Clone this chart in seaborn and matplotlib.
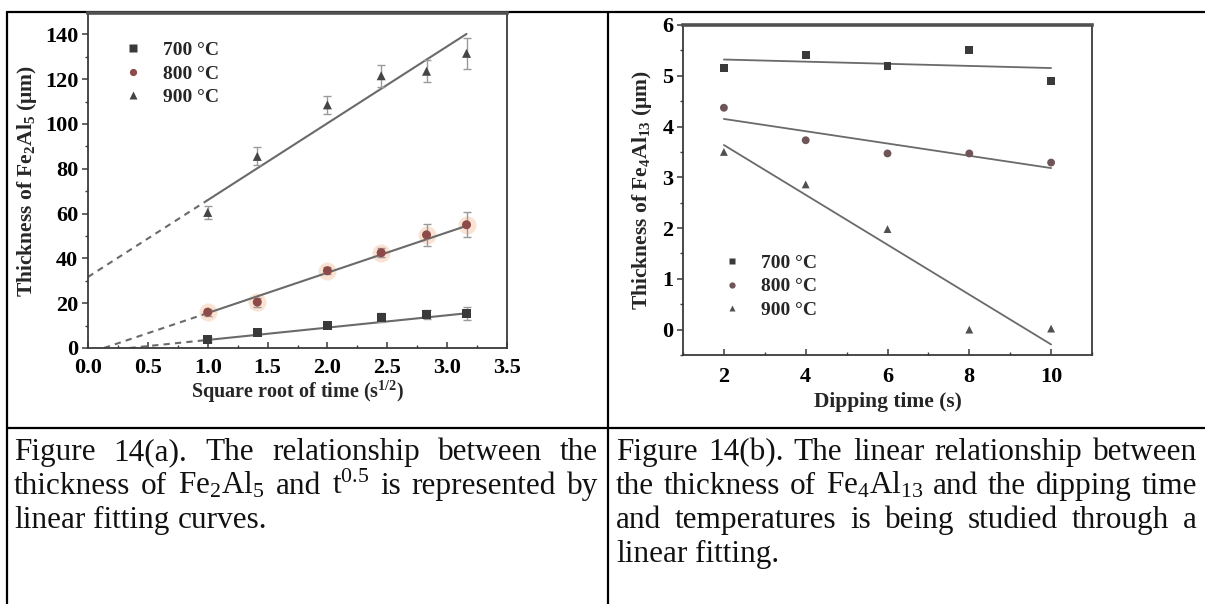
import numpy as np
import pandas as pd
import matplotlib
matplotlib.use("Agg")
import matplotlib.pyplot as plt
import matplotlib.transforms as mtransforms
from matplotlib.lines import Line2D
from matplotlib.ticker import MultipleLocator
import seaborn as sns

# ---------------- data ----------------
temps = ["700 °C", "800 °C", "900 °C"]

# (a) Fe2Al5 thickness vs square root of time
sqrt_time = [1.0, 1.414, 2.0, 2.449, 2.828, 3.162]
fe2al5_700 = [3.7, 6.7, 10.0, 13.5, 14.8, 15.5]
fe2al5_800 = [16.0, 20.5, 34.5, 42.5, 50.5, 55.0]
fe2al5_900 = [60.5, 85.5, 108.5, 121.5, 123.5, 131.5]
err_700 = [1.0, 1.0, 1.0, 2.0, 2.0, 3.0]
err_800 = [1.5, 2.0, 1.5, 2.0, 5.0, 5.5]
err_900 = [3.0, 4.0, 4.0, 5.0, 5.0, 7.0]
fit_slope_a = [5.5, 18.0, 34.3]
fit_intercept_a = [-1.9, -2.4, 31.7]

# (b) Fe4Al13 thickness vs dipping time
dip_time = [2, 4, 6, 8, 10]
fe4al13_700 = [5.16, 5.41, 5.20, 5.51, 4.90]
fe4al13_800 = [4.37, 3.73, 3.47, 3.47, 3.29]
fe4al13_900 = [3.50, 2.86, 1.98, 0.00, 0.02]

caption_a = [
    "Figure 14(a). The relationship between the",
    "thickness of Fe$_2$Al$_5$ and t$^{0.5}$ is represented by",
    "linear fitting curves.",
]
caption_b = [
    "Figure 14(b). The linear relationship between",
    "the thickness of Fe$_4$Al$_{13}$ and the dipping time",
    "and temperatures is being studied through a",
    "linear fitting.",
]

# ---------------- style ----------------
sns.set_theme(style="ticks")
plt.rcParams["font.family"] = ["Liberation Serif", "DejaVu Serif"]
plt.rcParams["mathtext.fontset"] = "custom"
plt.rcParams["mathtext.rm"] = "Liberation Serif"
plt.rcParams["mathtext.it"] = "Liberation Serif:italic"
plt.rcParams["mathtext.bf"] = "Liberation Serif:bold"

W, H = 1205, 604
fig = plt.figure(figsize=(W / 100, H / 100), dpi=100)
fig.patch.set_facecolor("white")

def fx(x):
    return x / W

def fy(y):
    return 1 - y / H

markers = {"700 °C": "s", "800 °C": "o", "900 °C": "^"}
pal_a = {"700 °C": "#3a3a3a", "800 °C": "#8e4a48", "900 °C": "#454545"}
pal_b = {"700 °C": "#3a3a3a", "800 °C": "#6e5558", "900 °C": "#505050"}
line_c = "#6a6a6a"

def style_axes(ax):
    for s in ["left", "bottom", "right"]:
        ax.spines[s].set_color("#3a3a3a")
        ax.spines[s].set_linewidth(1.3)
    ax.spines["top"].set_color("#505050")
    ax.spines["top"].set_linewidth(2.6)
    ax.tick_params(axis="y", which="both", direction="out", left=True, right=False,
                   colors="#3a3a3a", labelcolor="black", labelsize=16, pad=3)
    ax.tick_params(axis="x", which="both", direction="in", bottom=True, top=False,
                   colors="#3a3a3a", labelcolor="black", labelsize=16, pad=7)
    ax.tick_params(which="major", length=4, width=1.1)
    ax.tick_params(which="minor", length=2.5, width=1.0)
    for lab in ax.get_xticklabels() + ax.get_yticklabels():
        lab.set_fontweight("bold")
    ax.set_facecolor("white")
    ax.grid(False)

# ---------------- chart (a) ----------------
ax1 = fig.add_axes([fx(88), fy(348), fx(507 - 88), (348 - 13) / H])
df_a = pd.DataFrame({
    "x": sqrt_time * 3,
    "y": fe2al5_700 + fe2al5_800 + fe2al5_900,
    "err": err_700 + err_800 + err_900,
    "T": [temps[0]] * 6 + [temps[1]] * 6 + [temps[2]] * 6,
})

# fitted lines (solid in data range, dashed extrapolated)
xs = np.array([min(sqrt_time), max(sqrt_time)])
for m, b in zip(fit_slope_a, fit_intercept_a):
    ax1.plot(xs, m * xs + b, color=line_c, lw=1.5, zorder=2)
    x0 = max(0.0, -b / m)
    xd = np.array([x0, min(sqrt_time)])
    ax1.plot(xd, m * xd + b, color=line_c, lw=1.5, ls=(0, (3, 2.5)), zorder=2)

sub8 = df_a[df_a["T"] == temps[1]]
ax1.scatter(sub8["x"], sub8["y"], s=170, color="#f7cdb0", alpha=0.55, lw=0, zorder=1)
ax1.errorbar(df_a["x"], df_a["y"], yerr=df_a["err"], fmt="none", ecolor="#9a9a9a",
             elinewidth=1.0, capsize=3, capthick=1.0, zorder=2)
sns.scatterplot(data=df_a, x="x", y="y", hue="T", style="T", markers=markers,
                palette=pal_a, s=42, edgecolor="none", ax=ax1, zorder=3)
ax1.set_xlim(0, 3.5)
ax1.set_ylim(0, 149.5)
ax1.xaxis.set_major_locator(MultipleLocator(0.5))
ax1.xaxis.set_minor_locator(MultipleLocator(0.25))
ax1.yaxis.set_major_locator(MultipleLocator(20))
ax1.yaxis.set_minor_locator(MultipleLocator(10))
ax1.xaxis.set_major_formatter(matplotlib.ticker.FormatStrFormatter("%.1f"))
ax1.set_xlabel(r"Square root of time (s$^{\mathbf{1/2}}$)", fontsize=14.5,
               fontweight="bold", labelpad=1)
ax1.set_ylabel(r"Thickness of Fe$_\mathbf{2}$Al$_\mathbf{5}$ (μm)", fontsize=15.5,
               fontweight="bold", labelpad=4)
style_axes(ax1)
h, l = ax1.get_legend_handles_labels()
ax1.legend(h, l, frameon=False, loc="upper left", bbox_to_anchor=(0.085, 0.915),
           prop={"weight": "bold", "size": 14}, handletextpad=1.0, labelspacing=0.3,
           borderpad=0, borderaxespad=0, handlelength=1.0, markerscale=0.8)

# ---------------- chart (b) ----------------
ax2 = fig.add_axes([fx(683), fy(355), fx(1092 - 683), (355 - 25) / H])
df_b = pd.DataFrame({
    "t": dip_time * 3,
    "y": fe4al13_700 + fe4al13_800 + fe4al13_900,
    "T": [temps[0]] * 5 + [temps[1]] * 5 + [temps[2]] * 5,
})
for T in temps:
    sns.regplot(data=df_b[df_b["T"] == T], x="t", y="y", scatter=False, ci=None,
                ax=ax2, line_kws={"color": line_c, "lw": 1.3, "zorder": 2})
sns.scatterplot(data=df_b, x="t", y="y", hue="T", style="T", markers=markers,
                palette=pal_b, s=32, edgecolor="none", ax=ax2, zorder=3)
ax2.set_xlim(1, 11)
ax2.set_ylim(-0.5, 6)
ax2.xaxis.set_major_locator(MultipleLocator(2))
ax2.xaxis.set_minor_locator(MultipleLocator(1))
ax2.yaxis.set_major_locator(MultipleLocator(1))
ax2.yaxis.set_minor_locator(MultipleLocator(0.5))
ax2.set_xlabel("Dipping time (s)", fontsize=15.5, fontweight="bold", labelpad=3)
ax2.set_ylabel(r"Thickness of Fe$_\mathbf{4}$Al$_\mathbf{13}$ (μm)", fontsize=15.5,
               fontweight="bold", labelpad=6)
style_axes(ax2)
ax2.tick_params(axis="x", pad=9)
h, l = ax2.get_legend_handles_labels()
ax2.legend(h, l, frameon=False, loc="upper left", bbox_to_anchor=(0.095, 0.305),
           prop={"weight": "bold", "size": 14}, handletextpad=1.0, labelspacing=0.3,
           borderpad=0, borderaxespad=0, handlelength=1.0, markerscale=0.8)

# ---------------- table lines ----------------
def hline(y, x0, x1):
    fig.add_artist(Line2D([fx(x0), fx(x1)], [fy(y), fy(y)], color="black", lw=1.6,
                          transform=fig.transFigure, zorder=0))

def vline(x, y0, y1):
    fig.add_artist(Line2D([fx(x), fx(x)], [fy(y0), fy(y1)], color="black", lw=1.6,
                          transform=fig.transFigure, zorder=0))

hline(12, 7, W)
hline(428, 7, W)
vline(7, 12, H)
vline(608, 12, H)

# ---------------- captions (justified) ----------------
fig.canvas.draw()
renderer = fig.canvas.get_renderer()
ident = mtransforms.IdentityTransform()
CAP_SIZE = 22.5

def put_line(text, x0, x1, y, justify):
    words = text.split(" ")
    objs = [fig.text(0, H - y, w, fontsize=CAP_SIZE, transform=ident, va="baseline",
                     ha="left", color="#111111")
            for w in words]
    widths = [o.get_window_extent(renderer).width for o in objs]
    if justify and len(words) > 1:
        gap = (x1 - x0 - sum(widths)) / (len(words) - 1)
    else:
        sp = fig.text(0, 0, "a a", fontsize=CAP_SIZE, transform=ident)
        sp2 = fig.text(0, 0, "aa", fontsize=CAP_SIZE, transform=ident)
        gap = sp.get_window_extent(renderer).width - sp2.get_window_extent(renderer).width
        sp.remove(); sp2.remove()
    x = x0
    for o, wd in zip(objs, widths):
        o.set_position((x, H - y))
        x += wd + gap

base_y = [460, 494, 528, 562]
for i, line in enumerate(caption_a):
    put_line(line, 14, 598, base_y[i], justify=(i < len(caption_a) - 1))
for i, line in enumerate(caption_b):
    put_line(line, 616, 1197, base_y[i], justify=(i < len(caption_b) - 1))

fig.savefig("out.png", dpi=100, facecolor="white")
